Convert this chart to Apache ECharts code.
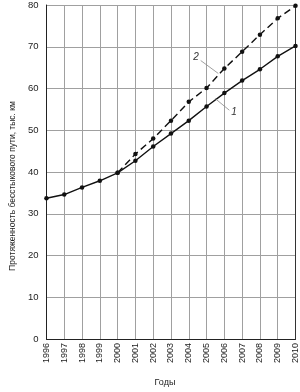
<!DOCTYPE html>
<html>
<head>
<meta charset="utf-8">
<script src="https://cdn.jsdelivr.net/npm/echarts@6/dist/echarts.min.js"></script>
<style>
  html, body { margin: 0; padding: 0; background: #fff; }
  #chart { width: 300px; height: 392px; }
</style>
</head>
<body>
<div id="chart"></div>
<script>
// годы и значения (тыс. км)
const years = [1996, 1997, 1998, 1999, 2000, 2001, 2002, 2003, 2004, 2005, 2006, 2007, 2008, 2009, 2010]
const actual = [33.7, 34.6, 36.3, 37.9, 39.8, 42.7, 46.1, 49.2, 52.3, 55.7, 58.9, 61.9, 64.6, 67.7, 70.2]
const plan = [null, null, null, null, 39.8, 44.3, 48.0, 52.3, 56.8, 60.1, 64.8, 68.8, 72.9, 76.8, 79.8]
const yTicks = [0, 10, 20, 30, 40, 50, 60, 70, 80]

const font = 'Liberation Sans, Arial, sans-serif'
const gridColor = '#a0a0a0'

const chart = echarts.init(document.getElementById('chart'), null, { renderer: 'canvas' })

function pairs(values) {
  return years.map((y, i) => [y, values[i]])
}

const option = {
  animation: false,
  backgroundColor: '#fff',
  grid: { left: 35, right: 4, top: 4, bottom: 46 },
  xAxis: {
    type: 'value',
    min: 1996,
    max: 2010,
    interval: 1,
    name: 'Годы',
    nameLocation: 'middle',
    nameGap: 39,
    nameTextStyle: { fontFamily: font, fontSize: 9, color: '#222', padding: [0, 12, 0, 0] },
    axisLine: { lineStyle: { color: '#222', width: 1 } },
    axisTick: { show: false },
    axisLabel: {
      rotate: 90,
      margin: 4,
      fontFamily: font,
      fontSize: 9,
      color: '#222',
      formatter: v => String(v)
    },
    splitLine: { lineStyle: { color: gridColor, width: 1 } }
  },
  yAxis: [{
    type: 'value',
    min: yTicks[0],
    max: yTicks[yTicks.length - 1],
    interval: 10,
    name: 'Протяженность бесстыкового пути, тыс. км',
    nameLocation: 'middle',
    nameGap: 25,
    nameTextStyle: { fontFamily: font, fontSize: 8.5, color: '#222', padding: [0, 28, 0, 0] },
    axisLine: { show: true, lineStyle: { color: '#222', width: 1 } },
    axisTick: { show: false },
    axisLabel: { fontFamily: font, fontSize: 9.5, color: '#222', margin: 8 },
    splitLine: { lineStyle: { color: gridColor, width: 1 } }
  }, {
    type: 'value',
    position: 'right',
    min: 0,
    max: 80,
    interval: 10,
    axisLine: { show: true, lineStyle: { color: '#333', width: 1 } },
    axisTick: { show: false },
    axisLabel: { show: false },
    splitLine: { show: false }
  }],
  series: [
    {
      name: '1',
      type: 'line',
      data: pairs(actual),
      symbol: 'circle',
      symbolSize: 4.5,
      lineStyle: { color: '#111', width: 1.4 },
      itemStyle: { color: '#111' },
      z: 3,
      markLine: {
        silent: true,
        symbol: 'none',
        label: { show: false },
        lineStyle: { color: '#888', width: 0.8, type: 'solid' },
        data: [[{ coord: [2005.48, 57.6] }, { coord: [2006.28, 54.8] }]]
      },
      markPoint: {
        silent: true,
        symbol: 'circle',
        symbolSize: 0,
        label: { show: true, formatter: '1', fontFamily: font, fontStyle: 'italic', fontSize: 10, color: '#333', position: 'inside' },
        data: [{ coord: [2006.55, 54.2] }]
      }
    },
    {
      name: '2',
      type: 'line',
      data: pairs(plan),
      symbol: 'circle',
      symbolSize: 4.5,
      connectNulls: false,
      lineStyle: { color: '#111', width: 1.4, type: [7, 4] },
      itemStyle: { color: '#111' },
      z: 4,
      markLine: {
        silent: true,
        symbol: 'none',
        label: { show: false },
        lineStyle: { color: '#888', width: 0.8, type: 'solid' },
        data: [[{ coord: [2004.67, 66.7] }, { coord: [2005.66, 63.6] }]]
      },
      markPoint: {
        silent: true,
        symbol: 'circle',
        symbolSize: 0,
        label: { show: true, formatter: '2', fontFamily: font, fontStyle: 'italic', fontSize: 10, color: '#333', position: 'inside' },
        data: [{ coord: [2004.41, 67.4] }]
      }
    }
  ]
}

chart.setOption(option)
</script>
</body>
</html>
